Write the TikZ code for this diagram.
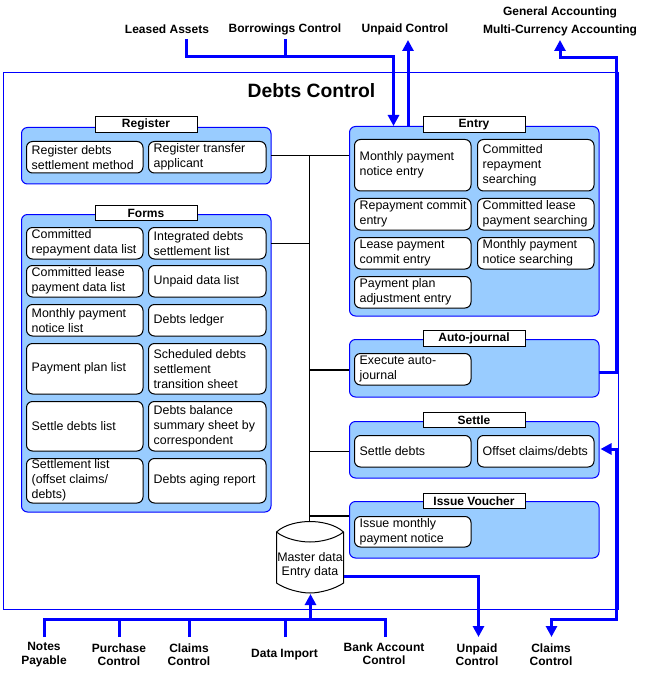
\documentclass[tikz,border=0pt]{standalone}
\usepackage{fontspec}
\setmainfont{Liberation Sans}
\usetikzlibrary{arrows.meta}
\definecolor{pblue}{RGB}{153,204,255}
\definecolor{lblue}{RGB}{0,0,255}
\tikzset{
 x=1pt,y=-1pt,
 panel/.style={draw=lblue,fill=pblue,line width=1pt,rounded corners=6pt,outer sep=0pt},
 card/.style={draw=black,fill=white,line width=1pt,rounded corners=6pt,outer sep=0pt},
 cardtext/.style={font=\fontsize{12.4}{15}\selectfont,align=left,anchor=west,inner sep=0pt},
 tag/.style={draw=black,fill=white,line width=1pt,font=\fontsize{12}{14}\selectfont\bfseries,inner sep=0pt,outer sep=0pt,minimum width=102pt,minimum height=15.5pt},
 ext/.style={font=\fontsize{12}{13.5}\selectfont\bfseries,align=center,inner sep=0pt},
 flow/.style={draw=lblue,line width=3pt},
 flowa/.style={flow,-{Triangle[length=11pt,width=11pt]}},
 bus/.style={draw=black,line width=1pt},
}
\newcommand{\cardbox}[6]{% name,x1,y1,x2,y2,text
 \node[card,minimum width=#4pt-#2pt,minimum height=#5pt-#3pt,inner sep=0pt,anchor=north west] (#1) at (#2,#3) {};
 \node[cardtext] (#1t) at (#2+5,{(#3+#5)/2}) {#6};
}
\newcommand{\panelbox}[6]{% name,x1,y1,x2,y2,title at y
 \node[panel,minimum width=#4pt-#2pt,minimum height=#5pt-#3pt,inner sep=0pt,anchor=north west] (#1) at (#2,#3) {};
}
\begin{document}
\begin{tikzpicture}
\useasboundingbox (0,0) rectangle (648,676);
\node[draw=lblue,line width=0.8pt,outer sep=0pt,minimum width=615pt,minimum height=537pt,inner sep=0pt,anchor=north west] (frame) at (3.5,72.5) {};
\node[font=\fontsize{19.3}{22}\selectfont\bfseries,inner sep=0pt] (title) at (311.5,91) {Debts Control};

% connectors behind panels
\coordinate (bt) at (309,156);
\coordinate (bb) at (309,522);
\draw[bus] (bt) -- (bb);
\coordinate (ja) at (309,243);
\coordinate (jb) at (309,369.5);
\coordinate (jc) at (309,451);
\coordinate (jd) at (309,516);

\panelbox{reg}{21.5}{127.5}{271}{184}{}
\panelbox{forms}{21.5}{214.5}{271}{512}{}
\panelbox{entry}{349.5}{126.5}{599}{316}{}
\panelbox{auto}{349.5}{339.5}{599}{397}{}
\panelbox{settle}{349.5}{421.5}{599}{478}{}
\panelbox{issue}{349.5}{501.5}{599}{558}{}

\draw[bus] (271,156) coordinate (ra) -- (349,156) coordinate (rb);
\draw[bus] (ja) -- (271,243);
\draw[bus,line width=2pt] (jb) -- (349,369.5);
\draw[bus] (jc) -- (349,451);
\draw[bus,line width=2pt] (jd) -- (349,516);

\node[tag] (tagreg) at (146,124.5) {Register};
\node[tag] (tagforms) at (146,213) {Forms};
\node[tag] (tagentry) at (474,124.5) {Entry};
\node[tag] (tagauto) at (474,338.5) {Auto-journal};
\node[tag] (tagsettle) at (474,420) {Settle};
\node[tag] (tagissue) at (474,501) {Issue Voucher};

\cardbox{r1}{26.5}{141.5}{143}{173}{Register debts\\settlement method}
\cardbox{r2}{148.5}{141.5}{266}{173}{Register transfer\\applicant}

\cardbox{f1}{26.5}{227.5}{143}{259}{Committed\\repayment data list}
\cardbox{f2}{148.5}{227.5}{266}{259}{Integrated debts\\settlement list}
\cardbox{f3}{26.5}{265.5}{143}{297}{Committed lease\\payment data list}
\cardbox{f4}{148.5}{265.5}{266}{297}{Unpaid data list}
\cardbox{f5}{26.5}{304.5}{143}{336}{Monthly payment\\notice list}
\cardbox{f6}{148.5}{304.5}{266}{336}{Debts ledger}
\cardbox{f7}{26.5}{343.5}{143}{394}{Payment plan list}
\cardbox{f8}{148.5}{343.5}{266}{394}{Scheduled debts\\settlement\\transition sheet}
\cardbox{f9}{26.5}{401.5}{143}{451}{Settle debts list}
\cardbox{f10}{148.5}{401.5}{266}{451}{Debts balance\\summary sheet by\\correspondent}
\cardbox{f11}{26.5}{458.5}{143}{503}{Settlement list\\(offset claims/\\debts)}
\cardbox{f12}{148.5}{458.5}{266}{503}{Debts aging report}

\cardbox{e1}{354.5}{139.5}{471}{191}{Monthly payment\\notice entry}
\cardbox{e2}{477.5}{139.5}{594}{191}{Committed\\repayment\\searching}
\cardbox{e3}{354.5}{198.5}{471}{230}{Repayment commit\\entry}
\cardbox{e4}{477.5}{198.5}{594}{230}{Committed lease\\payment searching}
\cardbox{e5}{354.5}{237.5}{471}{269}{Lease payment\\commit entry}
\cardbox{e6}{477.5}{237.5}{594}{269}{Monthly payment\\notice searching}
\cardbox{e7}{354.5}{276.5}{471}{308}{Payment plan\\adjustment entry}

\cardbox{a1}{354.5}{353.5}{471}{385}{Execute auto-\\journal}
\cardbox{s1}{354.5}{435.5}{471}{467}{Settle debts}
\cardbox{s2}{477.5}{435.5}{594}{467}{Offset claims/debts}
\cardbox{i1}{354.5}{516.5}{471}{547}{Issue monthly\\payment notice}

% cylinder
\draw[draw=black,fill=white,line width=1pt] (276.5,532) .. controls (285,524) and (300,521.5) .. (310,521.5) .. controls (320,521.5) and (335,524) .. (343.5,532) -- (343.5,583) .. controls (335,589) and (320,593) .. (310,593) .. controls (300,593) and (285,589) .. (276.5,583) -- cycle;
\draw[black,line width=1pt] (276.5,532) .. controls (285,539) and (300,542) .. (310,542) .. controls (320,542) and (335,539) .. (343.5,532);
\node[font=\fontsize{12.4}{14}\selectfont,align=center,inner sep=0pt] (db) at (310,565) {Master data\\Entry data};
\coordinate (dbr) at (344,576.5);
\coordinate (dbb) at (310.5,594);

% external labels
\node[ext] (xla) at (167,29) {Leased Assets};
\node[ext] (xbc) at (285,29) {Borrowings Control};
\node[ext] (xuc) at (405,29) {Unpaid Control};
\node[ext] (xga) at (560,12) {General Accounting};
\node[ext] (xmc) at (560,30) {Multi-Currency Accounting};
\node[ext] (xnp) at (44,654.5) {Notes\\Payable};
\node[ext] (xpc) at (119,654.5) {Purchase\\Control};
\node[ext] (xcc) at (189,654.5) {Claims\\Control};
\node[ext] (xdi) at (284.5,655) {Data Import};
\node[ext] (xba) at (384,653.5) {Bank Account\\Control};
\node[ext] (xuo) at (477,654.5) {Unpaid\\Control};
\node[ext] (xco) at (551,654.5) {Claims\\Control};

% blue flows
\coordinate (c1) at (186,39);
\coordinate (c2) at (186,56.5);
\coordinate (c3) at (393.5,56.5);
\coordinate (c4) at (393.5,126);
\coordinate (c5) at (285,39);
\draw[flowa] (c1) -- (c2) -- (c3) -- (c4);
\draw[flow] (c5) -- (285,56.5);
\draw[flowa] (408,126) -- (408,40);
\draw[flowa] (599,372) -- (616,372) -- (616,57.5) -- (560,57.5) -- (560,40);
\draw[flow] (616,619) -- (616,449);
\draw[flowa] (617.5,449) -- (600.5,449);
\draw[flowa] (617.5,619) -- (551.5,619) -- (551.5,637);
\draw[flowa] (dbr) -- (478.5,576.5) -- (478.5,637);
\draw[flow] (44,637) -- (44,619.5) -- (385.5,619.5) -- (385.5,637);
\draw[flow] (119,637) -- (119,619.5);
\draw[flow] (189,637) -- (189,619.5);
\draw[flow] (285,637) -- (285,619.5);
\draw[flowa] (310.5,619.5) -- (dbb);
\end{tikzpicture}
\end{document}
